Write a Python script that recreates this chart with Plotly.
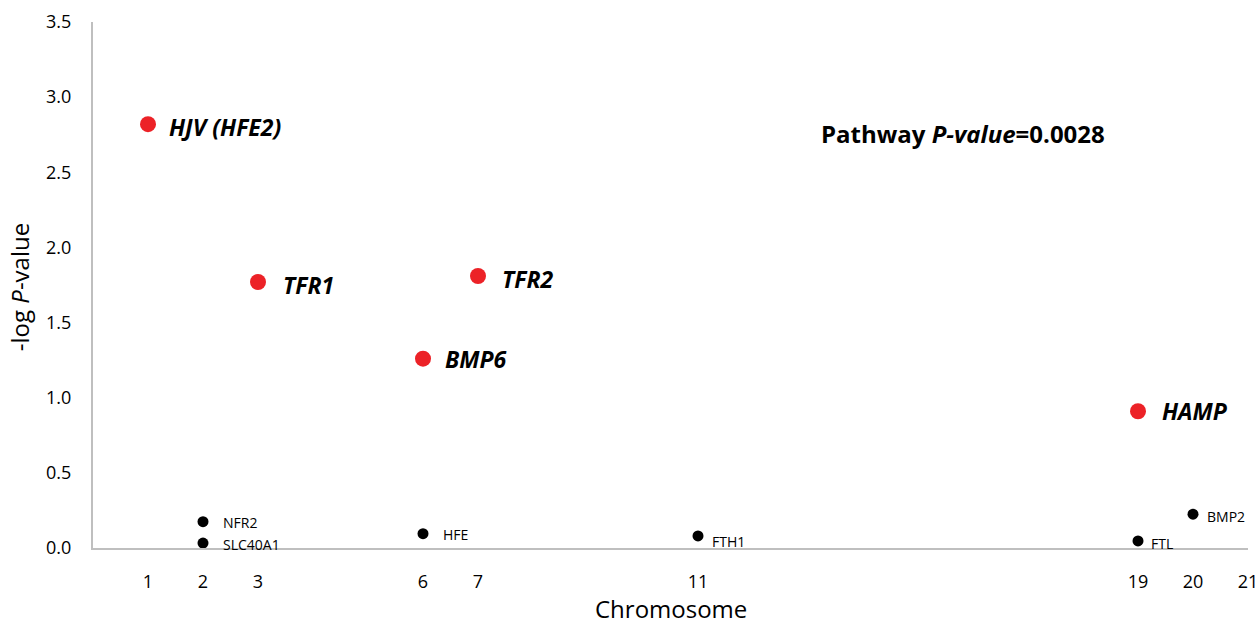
import plotly.graph_objects as go

# Data
sig_genes = ["HJV (HFE2)", "TFR1", "TFR2", "BMP6", "HAMP"]
sig_chrom = [1, 3, 7, 6, 19]
sig_logp = [2.82, 1.77, 1.81, 1.26, 0.91]

ns_genes = ["NFR2", "SLC40A1", "HFE", "FTH1", "FTL", "BMP2"]
ns_chrom = [2, 2, 6, 11, 19, 20]
ns_logp = [0.175, 0.033, 0.095, 0.08, 0.047, 0.225]

x_ticks = [1, 2, 3, 6, 7, 11, 19, 20, 21]
y_ticks = [0, 0.5, 1.0, 1.5, 2.0, 2.5, 3.0, 3.5]
pathway_text = "Pathway <i>P-value</i>=0.0028"
x_title = "Chromosome"
y_title = "-log <i>P</i>-value"

FONT = "Open Sans"
RED = "#EC2227"

# label offsets (style)
sig_shift = [(19, -3), (23, -3), (22, -3), (20, 0), (22, 0)]
ns_shift = [(18, -1), (18, -1), (18, -1), (12, -6), (11, -3), (12, -2)]

fig = go.Figure()
fig.add_trace(go.Scatter(x=sig_chrom, y=sig_logp, mode="markers",
                         marker=dict(color=RED, size=16), hoverinfo="x+y",
                         showlegend=False))
fig.add_trace(go.Scatter(x=ns_chrom, y=ns_logp, mode="markers",
                         marker=dict(color="black", size=11), hoverinfo="x+y",
                         showlegend=False))

annotations = []
for g, x, y, (dx, dy) in zip(sig_genes, sig_chrom, sig_logp, sig_shift):
    annotations.append(dict(x=x, y=y, text=f"<b><i>{g}</i></b>", showarrow=False,
                            xanchor="left", yanchor="middle", xshift=dx, yshift=dy,
                            font=dict(family=FONT, size=23, color="black")))
for g, x, y, (dx, dy) in zip(ns_genes, ns_chrom, ns_logp, ns_shift):
    annotations.append(dict(x=x, y=y, text=g, showarrow=False,
                            xanchor="left", yanchor="middle", xshift=dx, yshift=dy,
                            font=dict(family=FONT, size=14, color="black")))
annotations.append(dict(x=15.82, y=2.76, text=f"<b>{pathway_text}</b>", showarrow=False,
                        xanchor="center", yanchor="middle",
                        font=dict(family=FONT, size=24, color="black")))
# axis titles
annotations.append(dict(xref="paper", yref="paper", x=0.5, y=-0.1141, text=x_title,
                        showarrow=False, xanchor="center", yanchor="middle",
                        font=dict(family=FONT, size=24, color="black")))
annotations.append(dict(xref="paper", yref="paper", x=-0.064, y=0.496, text=y_title,
                        showarrow=False, xanchor="center", yanchor="middle", textangle=-90,
                        font=dict(family=FONT, size=24, color="black")))

fig.update_layout(
    width=1260, height=625,
    margin=dict(l=93, r=12, t=22, b=77, autoexpand=False),
    paper_bgcolor="white", plot_bgcolor="white",
    font=dict(family=FONT, color="black"),
    annotations=annotations,
    xaxis=dict(range=[0, 21], tickmode="array", tickvals=x_ticks,
               ticktext=[str(t) for t in x_ticks], showgrid=False, zeroline=False,
               showline=True, linecolor="#BFBFBF", linewidth=2, ticks="",
               ticklabelstandoff=16, automargin=False,
               tickfont=dict(size=18, family=FONT, color="black")),
    yaxis=dict(range=[0, 3.5], tickmode="array", tickvals=y_ticks,
               ticktext=[f"{t:.1f}" for t in y_ticks], showgrid=False, zeroline=False,
               showline=True, linecolor="#BFBFBF", linewidth=2, ticks="",
               ticklabelstandoff=16, automargin=False,
               tickfont=dict(size=18, family=FONT, color="black")),
)

fig.write_html("out.html", config={"displayModeBar": False},
               post_script="document.body.style.margin='0';document.body.style.overflow='hidden';")
